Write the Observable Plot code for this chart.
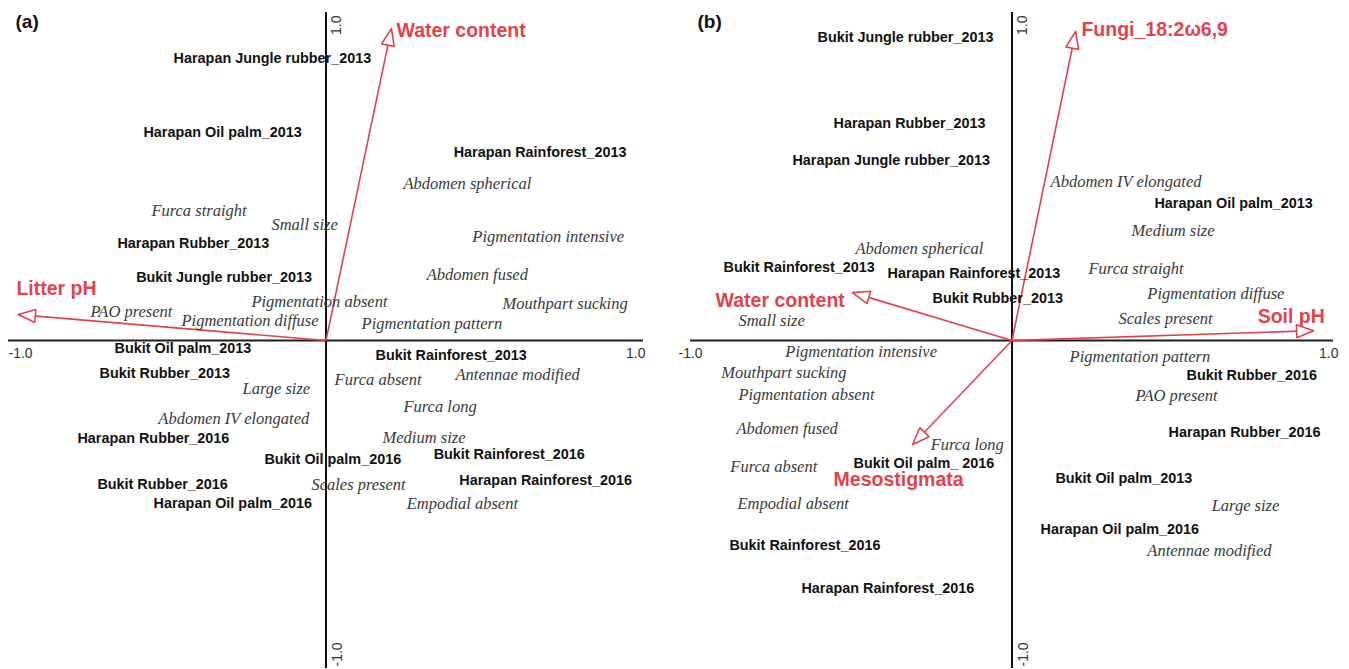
<!DOCTYPE html>
<html><head><meta charset="utf-8">
<script src="https://cdn.jsdelivr.net/npm/d3@7"></script>
<script src="https://cdn.jsdelivr.net/npm/@observablehq/plot@0.6"></script>
<style>
html,body{margin:0;padding:0;background:#fff;overflow:hidden}
#wrap{position:relative;width:1349px;height:669px;background:#fff}
#wrap svg{position:absolute;top:0}
</style></head><body><div id="wrap"></div>
<script>
// ---------- Panel (a) data ----------
const samplesA = ["Harapan Jungle rubber_2013","Harapan Oil palm_2013","Harapan Rainforest_2013","Harapan Rubber_2013","Bukit Jungle rubber_2013","Bukit Oil palm_2013","Bukit Rubber_2013","Harapan Rubber_2016","Bukit Oil palm_2016","Bukit Rubber_2016","Harapan Oil palm_2016","Bukit Rainforest_2013","Bukit Rainforest_2016","Harapan Rainforest_2016"];
const samplesAX = [-0.480,-0.575,0.402,-0.657,-0.598,-0.666,-0.713,-0.783,-0.194,-0.720,-0.543,0.156,0.339,0.420];
const samplesAY = [0.860,0.634,0.573,0.296,0.192,-0.024,-0.101,-0.299,-0.363,-0.439,-0.497,-0.046,-0.348,-0.427];

const traitsA = ["Abdomen spherical","Pigmentation intensive","Abdomen fused","Mouthpart sucking","Pigmentation pattern","Pigmentation absent","Pigmentation diffuse","PAO present","Furca straight","Small size","Large size","Abdomen IV elongated","Furca absent","Antennae modified","Furca long","Medium size","Scales present","Empodial absent"];
const traitsAX = [0.244,0.461,0.317,0.556,0.112,-0.235,-0.455,-0.742,-0.550,-0.172,-0.263,-0.528,0.027,0.408,0.244,0.178,-0.046,0.254];
const traitsAY = [0.479,0.317,0.201,0.113,0.052,0.119,0.061,0.088,0.396,0.354,-0.146,-0.238,-0.119,-0.104,-0.201,-0.296,-0.439,-0.497];

const envA = ["Water content","Litter pH"];
const envAX = [0.206,-0.969];
const envAY = [0.951,0.079];
const envALabelX = [0.222,-0.975];
const envALabelY = [0.945,0.159];

// ---------- Panel (b) data ----------
const samplesB = ["Bukit Jungle rubber_2013","Harapan Rubber_2013","Harapan Jungle rubber_2013","Bukit Rainforest_2013","Harapan Rainforest_2013","Bukit Rubber_2013","Harapan Oil palm_2013","Bukit Rubber_2016","Harapan Rubber_2016","Bukit Oil palm_2013","Harapan Oil palm_2016","Bukit Oil palm_ 2016","Bukit Rainforest_2016","Harapan Rainforest_2016"];
const samplesBX = [-0.605,-0.555,-0.683,-0.897,-0.387,-0.247,0.443,0.543,0.487,0.135,0.089,-0.493,-0.879,-0.655];
const samplesBY = [0.924,0.662,0.549,0.223,0.204,0.128,0.418,-0.107,-0.280,-0.421,-0.576,-0.375,-0.625,-0.756];

const traitsB = ["Abdomen IV elongated","Medium size","Furca straight","Pigmentation diffuse","Scales present","Abdomen spherical","Small size","Pigmentation intensive","Mouthpart sucking","Pigmentation absent","Abdomen fused","Furca long","Furca absent","Empodial absent","Pigmentation pattern","PAO present","Large size","Antennae modified"];
const traitsBX = [0.120,0.372,0.238,0.421,0.331,-0.487,-0.851,-0.705,-0.904,-0.851,-0.857,-0.253,-0.876,-0.854,0.179,0.384,0.621,0.421];
const traitsBY = [0.485,0.335,0.220,0.143,0.067,0.280,0.061,-0.034,-0.098,-0.165,-0.268,-0.317,-0.384,-0.497,-0.049,-0.168,-0.503,-0.640];

const envB = ["Fungi_18:2ω6,9","Soil pH","Water content","Mesostigmata"];
const envBX = [0.198,0.938,-0.496,-0.309];
const envBY = [0.942,0.030,0.146,-0.317];
const envBLabelX = [0.216,0.764,-0.922,-0.555];
const envBLabelY = [0.948,0.073,0.122,-0.426];

// ---------- Axis tick labels ----------
const tickValues = [-1, 1];
const tickLabels = ["-1.0", "1.0"];

const RED = "#e2434b";
const SANS = "Liberation Sans, Arial, Helvetica, sans-serif";
const SERIF = "Liberation Serif, Times New Roman, serif";

function headRows(names, xs, ys, kx, ky) {
  const rows = [];
  names.forEach((n, i) => {
    const px = xs[i] * kx, py = -ys[i] * ky;
    const len = Math.hypot(px, py), ux = px / len, uy = py / len;
    const L = 17, w = 6.5;
    const bx = px - L * ux, by = py - L * uy;
    const pts = [[px, py], [bx - w * uy, by + w * ux], [bx + w * uy, by - w * ux], [px, py]];
    pts.forEach(([a, b]) => rows.push({name: n, x: a / kx, y: -b / ky}));
  });
  return rows;
}

function panel(cfg) {
  const {width, height, ml, mr, mt, mb, letter, samples, sx, sy, traits, tx, ty, env, ex, ey, elx, ely, hdx1, hdx2} = cfg;
  const kx = (width - ml - mr) / 2, ky = (height - mt - mb) / 2;
  const heads = headRows(env, ex, ey, kx, ky);
  return Plot.plot({
    width, height,
    marginLeft: ml, marginRight: mr, marginTop: mt, marginBottom: mb,
    x: {domain: [-1, 1], axis: null},
    y: {domain: [-1, 1], axis: null},
    style: {fontFamily: SANS, background: "transparent", overflow: "visible"},
    marks: [
      Plot.ruleY([0], {stroke: "#1e1e1e", strokeWidth: 2}),
      Plot.ruleX([0], {stroke: "#111", strokeWidth: 2}),
      Plot.text([tickValues[0]], {x: d => d, y: () => 0, text: () => tickLabels[0], textAnchor: "start", dy: 13, dx: hdx1, fontSize: 14, fill: "#333"}),
      Plot.text([tickValues[1]], {x: d => d, y: () => 0, text: () => tickLabels[1], textAnchor: "end", dy: 13, dx: hdx2, fontSize: 14, fill: "#333"}),
      Plot.text([tickValues[1]], {x: () => 0, y: d => d, text: () => tickLabels[1], rotate: -90, textAnchor: "end", dx: 11, dy: 3, fontSize: 14, fill: "#333"}),
      Plot.text([tickValues[0]], {x: () => 0, y: d => d, text: () => tickLabels[0], rotate: -90, textAnchor: "start", dx: 12, dy: -2, fontSize: 14, fill: "#333"}),
      Plot.link(env, {x1: () => 0, y1: () => 0, x2: (d, i) => ex[i], y2: (d, i) => ey[i], stroke: RED, strokeWidth: 1.6}),
      Plot.line(heads, {x: "x", y: "y", z: "name", fill: "white", stroke: RED, strokeWidth: 1.6, strokeLinejoin: "miter"}),
      Plot.text(traits, {x: (d, i) => tx[i], y: (d, i) => ty[i], text: d => d, textAnchor: "start", fontFamily: SERIF, fontStyle: "italic", fontSize: 16.5, fill: "#3a3a3a"}),
      Plot.text(samples, {x: (d, i) => sx[i], y: (d, i) => sy[i], text: d => d, textAnchor: "start", fontWeight: "bold", fontSize: 14.4, fill: "#111"}),
      Plot.text(env, {x: (d, i) => elx[i], y: (d, i) => ely[i], text: d => d, textAnchor: "start", fontWeight: "bold", fontSize: 19.5, fill: RED}),
      Plot.text([letter], {frameAnchor: "top-left", text: d => d, dx: 7, dy: 2, fontWeight: "bold", fontSize: 19, fill: "#111"})
    ]
  });
}

const wrap = document.getElementById("wrap");
const a = panel({width: 674, height: 669, ml: 8, mr: 31, mt: 12, mb: 1, letter: "(a)",
  samples: samplesA, sx: samplesAX, sy: samplesAY, traits: traitsA, tx: traitsAX, ty: traitsAY,
  env: envA, ex: envAX, ey: envAY, elx: envALabelX, ely: envALabelY, hdx1: 0, hdx2: 2});
a.style.left = "0px";
wrap.appendChild(a);
const b = panel({width: 675, height: 669, ml: 16, mr: 16, mt: 12, mb: 1, letter: "(b)",
  samples: samplesB, sx: samplesBX, sy: samplesBY, traits: traitsB, tx: traitsBX, ty: traitsBY,
  env: envB, ex: envBX, ey: envBY, elx: envBLabelX, ely: envBLabelY, hdx1: -12, hdx2: 5});
b.style.left = "674px";
wrap.appendChild(b);
</script>
</body></html>
